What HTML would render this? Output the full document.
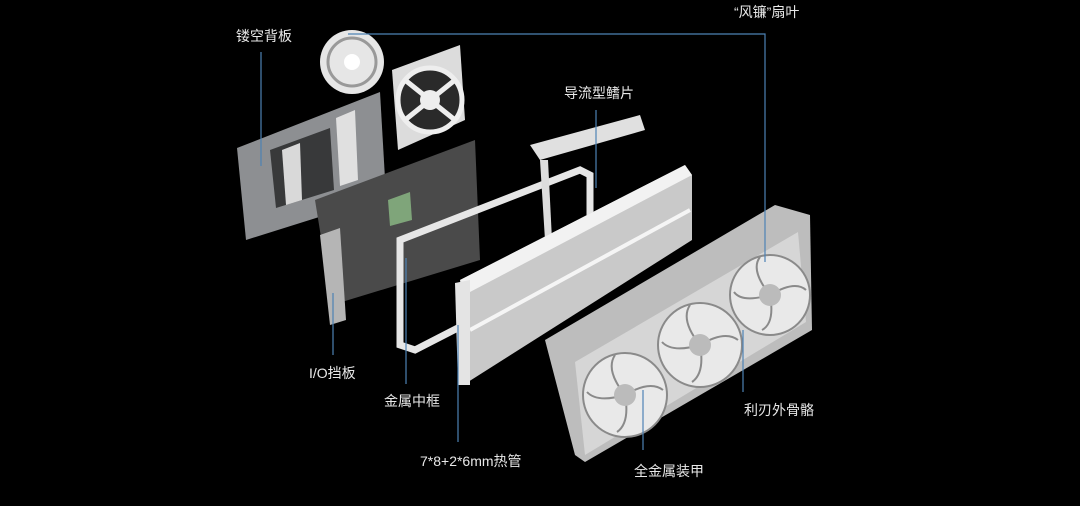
<!DOCTYPE html>
<html><head><meta charset="utf-8"><style>
html,body{margin:0;padding:0;background:#000;}
svg{display:block}
text{font-family:"Liberation Sans","Noto Sans CJK SC",sans-serif;fill:#e8e8e8;font-size:14px}
</style></head><body>
<svg width="1080" height="506" viewBox="0 0 1080 506">
<rect width="1080" height="506" fill="#000"/>
<!-- backplate -->
<polygon points="237,148 380,92 386,196 246,240" fill="#8d8f92"/>
<polygon points="270,150 330,128 334,190 276,208" fill="#000" opacity="0.6"/>
<polygon points="282,150 300,143 302,200 286,205" fill="#d9d9d9"/>
<polygon points="336,118 355,110 358,180 340,186" fill="#e0e0e0"/>
<!-- fans top -->
<circle cx="352" cy="62" r="32" fill="#e6e6e6"/>
<circle cx="352" cy="62" r="24" fill="none" stroke="#999" stroke-width="3"/>
<circle cx="352" cy="62" r="8" fill="#fff"/>
<polygon points="392,70 460,45 465,120 398,150" fill="#dcdcdc"/>
<circle cx="430" cy="100" r="32" fill="#2a2a2a"/>
<circle cx="430" cy="100" r="32" fill="none" stroke="#eee" stroke-width="5"/>
<path d="M405,80 L455,120 M455,80 L405,120" stroke="#eee" stroke-width="5"/>
<circle cx="430" cy="100" r="10" fill="#eee"/>
<!-- PCB -->
<polygon points="315,200 475,140 480,260 332,305" fill="#4a4a4a"/>
<polygon points="388,200 410,192 412,220 390,226" fill="#7fa57a"/>
<polygon points="320,235 340,228 346,320 330,325" fill="#b5b5b5"/>
<!-- middle frame -->
<polygon points="400,240 580,170 590,175 590,260 415,350 400,345" fill="none" stroke="#e6e6e6" stroke-width="7"/>
<polygon points="530,145 640,115 645,130 540,160" fill="#e0e0e0"/>
<polygon points="540,160 545,240 552,240 548,160" fill="#ddd"/>
<!-- heatsink -->
<polygon points="460,280 685,165 692,175 692,240 468,382" fill="#c9c9c9"/>
<polygon points="460,280 685,165 692,175 470,292" fill="#f2f2f2"/>
<line x1="470" y1="330" x2="690" y2="210" stroke="#f5f5f5" stroke-width="4"/>
<polygon points="455,283 470,280 470,385 458,385" fill="#e4e4e4"/>
<!-- shroud -->
<polygon points="545,340 775,205 810,215 812,330 585,462 575,455" fill="#bdbdbd"/>
<polygon points="575,362 798,232 806,322 585,455" fill="#d6d6d6"/>
<g fill="none" stroke="#8a8a8a" stroke-width="2">
<circle cx="625" cy="395" r="42" fill="#e9e9e9"/>
<circle cx="700" cy="345" r="42" fill="#e9e9e9"/>
<circle cx="770" cy="295" r="40" fill="#e9e9e9"/>
<path d="M625,395 q-20,-25 -10,-40 M625,395 q25,-15 38,-5 M625,395 q5,28 -8,37 M625,395 q-28,8 -38,-3"/>
<path d="M700,345 q-20,-25 -10,-40 M700,345 q25,-15 38,-5 M700,345 q5,28 -8,37 M700,345 q-28,8 -38,-3"/>
<path d="M770,295 q-20,-25 -10,-38 M770,295 q25,-15 36,-5 M770,295 q5,28 -8,35 M770,295 q-28,8 -36,-3"/>
</g>
<circle cx="625" cy="395" r="11" fill="#bbb"/>
<circle cx="700" cy="345" r="11" fill="#bbb"/>
<circle cx="770" cy="295" r="11" fill="#bbb"/>
<!-- leader lines -->
<g stroke="#4d82b5" stroke-width="1.2" fill="none">
<polyline points="348,34 765,34 765,262"/>
<line x1="261" y1="52" x2="261" y2="166"/>
<line x1="596" y1="110" x2="596" y2="188"/>
<line x1="333" y1="293" x2="333" y2="355"/>
<line x1="406" y1="258" x2="406" y2="384"/>
<line x1="458" y1="325" x2="458" y2="442"/>
<line x1="643" y1="390" x2="643" y2="450"/>
<line x1="743" y1="330" x2="743" y2="392"/>
</g>
<text x="734" y="17">“风镰”扇叶</text>
<text x="236" y="41">镂空背板</text>
<text x="564" y="98">导流型鳍片</text>
<text x="309" y="378">I/O挡板</text>
<text x="384" y="406">金属中框</text>
<text x="420" y="466">7*8+2*6mm热管</text>
<text x="634" y="476">全金属装甲</text>
<text x="744" y="415">利刃外骨骼</text>
</svg>
</body></html>
